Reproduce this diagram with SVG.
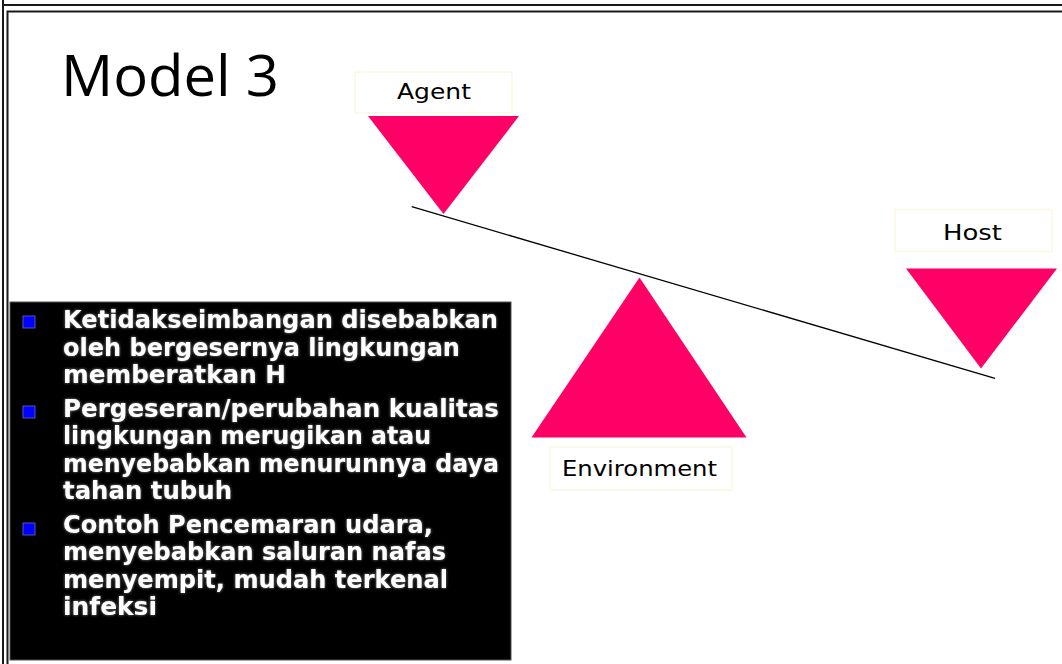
<svg xmlns="http://www.w3.org/2000/svg" width="1062" height="664" viewBox="0 0 1062 664">
<defs>
<style>
.frame{fill:none;stroke:#1a1a1a;stroke-width:2}
.tri{fill:#FF0066;stroke:none}
.lbox{fill:#ffffff;stroke:#fbf8e4;stroke-width:1.5}
.lbl{font-family:"DejaVu Sans","Liberation Sans",sans-serif;font-size:22px;fill:#000000}
.bul{font-family:"DejaVu Sans","Liberation Sans",sans-serif;font-size:25px;font-weight:bold;fill:#ffffff}
.sq{fill:#0000ff;stroke:#6666cc;stroke-width:0.8}
.title{font-family:"Open Sans","Liberation Sans",sans-serif;font-size:56px;fill:#000000}
</style>
<filter id="glow" x="-5%" y="-30%" width="110%" height="160%">
<feGaussianBlur in="SourceAlpha" stdDeviation="1.6" result="b"/>
<feFlood flood-color="#9a9a9a" flood-opacity="0.9"/>
<feComposite in2="b" operator="in" result="g"/>
<feMerge><feMergeNode in="g"/><feMergeNode in="SourceGraphic"/></feMerge>
</filter>
</defs>
<rect x="0" y="0" width="1062" height="664" fill="#ffffff"/>
<g id="frames">
<rect class="frame" x="3" y="-20" width="1100" height="720"/>
<line class="frame" x1="3" y1="5" x2="1070" y2="5"/>
<rect class="frame" x="7.5" y="11.5" width="1100" height="700"/>
</g>
<g id="title">
<text class="title" x="61" y="96" textLength="218" lengthAdjust="spacingAndGlyphs">Model 3</text>
</g>
<g id="notes">
<rect x="10" y="302" width="501" height="358" fill="#000000" stroke="#555555" stroke-width="1"/>
<rect class="sq" x="23" y="316" width="12" height="12"/>
<rect class="sq" x="23" y="406" width="12" height="12"/>
<rect class="sq" x="23" y="523" width="12" height="12"/>
<g filter="url(#glow)">
<text class="bul" x="63" y="328" textLength="435" lengthAdjust="spacingAndGlyphs">Ketidakseimbangan disebabkan</text>
<text class="bul" x="63" y="355.5" textLength="397" lengthAdjust="spacingAndGlyphs">oleh bergesernya lingkungan</text>
<text class="bul" x="63" y="383" textLength="223" lengthAdjust="spacingAndGlyphs">memberatkan H</text>
<text class="bul" x="63" y="416.5" textLength="436" lengthAdjust="spacingAndGlyphs">Pergeseran/perubahan kualitas</text>
<text class="bul" x="63" y="444" textLength="368" lengthAdjust="spacingAndGlyphs">lingkungan merugikan atau</text>
<text class="bul" x="63" y="471.5" textLength="436" lengthAdjust="spacingAndGlyphs">menyebabkan menurunnya daya</text>
<text class="bul" x="63" y="499" textLength="169" lengthAdjust="spacingAndGlyphs">tahan tubuh</text>
<text class="bul" x="63" y="532.5" textLength="370" lengthAdjust="spacingAndGlyphs">Contoh Pencemaran udara,</text>
<text class="bul" x="63" y="560" textLength="383" lengthAdjust="spacingAndGlyphs">menyebabkan saluran nafas</text>
<text class="bul" x="63" y="587.5" textLength="385" lengthAdjust="spacingAndGlyphs">menyempit, mudah terkenal</text>
<text class="bul" x="63" y="615" textLength="94" lengthAdjust="spacingAndGlyphs">infeksi</text>
</g>
</g>
<g id="connectors">
<line x1="411.7" y1="206.7" x2="995" y2="378.3" stroke="#000000" stroke-width="1.3"/>
</g>
<g id="agent">
<rect class="lbox" x="355" y="72" width="157" height="41"/>
<text class="lbl" x="397" y="99" textLength="74" lengthAdjust="spacingAndGlyphs">Agent</text>
<polygon class="tri" points="368,116 519,116 443.5,214"/>
</g>
<g id="host">
<rect class="lbox" x="895" y="209.5" width="157" height="42"/>
<text class="lbl" x="943" y="240" textLength="59" lengthAdjust="spacingAndGlyphs">Host</text>
<polygon class="tri" points="906,268.5 1057,268.5 981,368.5"/>
</g>
<g id="environment">
<polygon class="tri" points="639.5,277.5 746.5,437.5 531.5,437.5"/>
<rect class="lbox" x="550" y="447" width="182" height="43"/>
<text class="lbl" x="562" y="476" textLength="155" lengthAdjust="spacingAndGlyphs">Environment</text>
</g>
</svg>
